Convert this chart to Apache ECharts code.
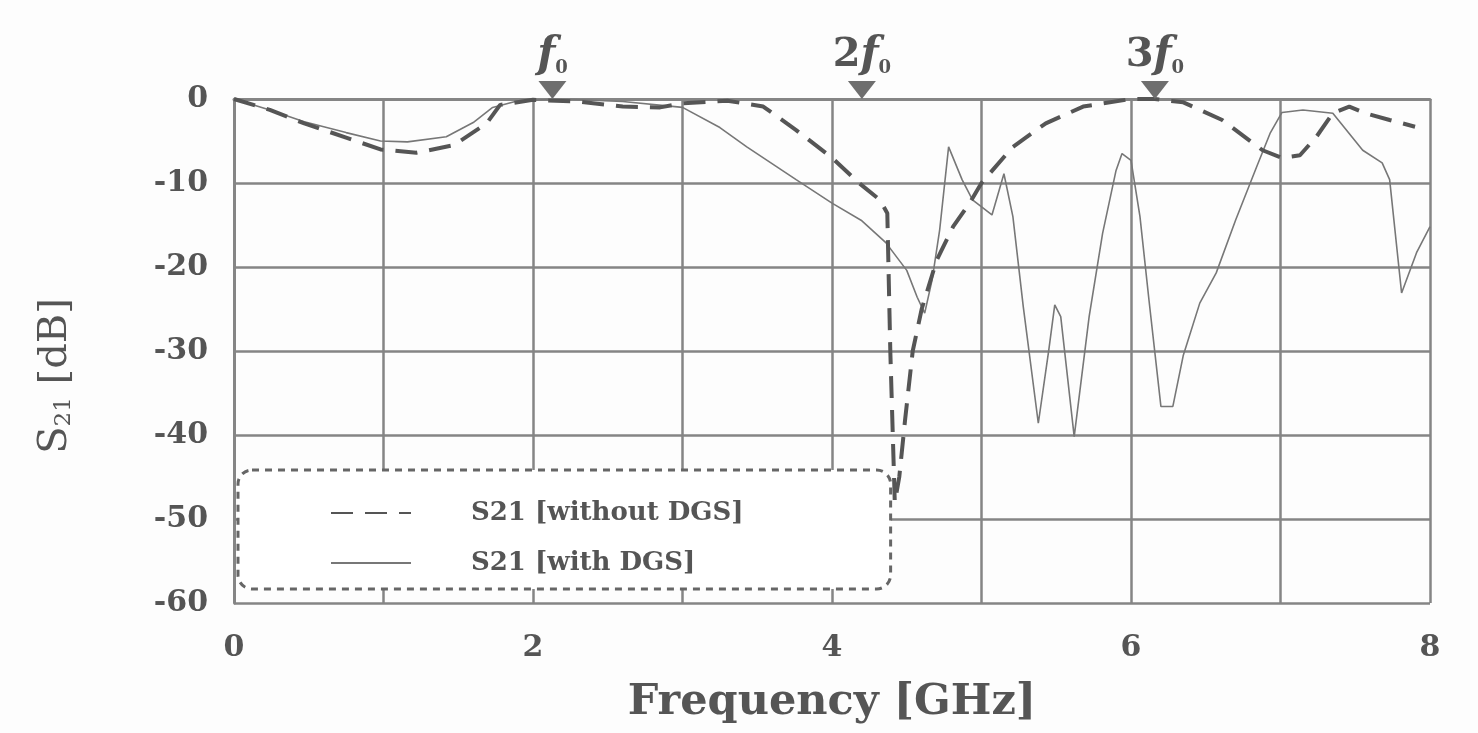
<!DOCTYPE html>
<html>
<head>
<meta charset="utf-8">
<script src="https://cdn.jsdelivr.net/npm/echarts@6/dist/echarts.min.js"></script>
<style>
  html, body { margin: 0; padding: 0; background: #fdfdfd; }
  #chart { width: 1478px; height: 733px; }
</style>
</head>
<body>
<div id="chart"></div>
<script>
// S21 without DGS (dashed)
let woFreq = [0, 0.24, 0.47, 0.75, 0.98, 1.22, 1.47, 1.69, 1.78, 2.0, 2.3, 2.6, 2.85, 3.0, 3.3, 3.54, 3.76, 4.0, 4.18, 4.32, 4.37, 4.39, 4.42, 4.45, 4.49, 4.54, 4.6, 4.7, 4.81, 4.92, 5.0, 5.17, 5.21, 5.43, 5.68, 6.0, 6.16, 6.35, 6.61, 6.88, 7.01, 7.13, 7.24, 7.35, 7.46, 7.57, 7.73, 7.9]
let woS21 = [0, -1.3, -2.9, -4.6, -6.0, -6.4, -5.5, -2.9, -0.7, -0.1, -0.3, -0.9, -1.0, -0.5, -0.2, -0.9, -3.7, -7.0, -10.0, -12.0, -13.6, -30, -48, -45, -38, -30, -25, -19.2, -15.2, -12.4, -10, -6.5, -5.7, -2.9, -0.9, 0, 0, -0.4, -2.5, -6.1, -7.0, -6.7, -4.5, -1.7, -0.9, -1.7, -2.5, -3.3]

// S21 with DGS (solid)
let wFreq = [0, 0.24, 0.47, 0.75, 0.98, 1.16, 1.42, 1.6, 1.73, 1.9, 2.2, 2.6, 3.0, 3.25, 3.43, 3.76, 4.0, 4.2, 4.36, 4.5, 4.57, 4.62, 4.67, 4.72, 4.78, 4.87, 4.94, 5.07, 5.15, 5.21, 5.28, 5.38, 5.45, 5.49, 5.53, 5.62, 5.72, 5.81, 5.9, 5.94, 6.0, 6.06, 6.12, 6.2, 6.28, 6.35, 6.46, 6.57, 6.7, 6.84, 6.93, 7.01, 7.15, 7.35, 7.55, 7.68, 7.73, 7.81, 7.91, 8.0]
let wS21 = [0, -1.3, -2.7, -4.0, -5.0, -5.1, -4.5, -2.8, -1.0, -0.2, 0, -0.3, -1.0, -3.4, -5.7, -9.6, -12.4, -14.5, -17.1, -20.4, -23.6, -25.5, -21.5, -15.6, -5.7, -9.6, -12.0, -13.8, -8.9, -14, -24.8, -38.6, -29.9, -24.5, -25.9, -40.2, -25.9, -16, -8.5, -6.5, -7.3, -14, -23.9, -36.6, -36.6, -30.5, -24.3, -20.7, -14.4, -8.1, -4.1, -1.6, -1.3, -1.7, -6.1, -7.6, -9.6, -23.1, -18.3, -15.2]

// harmonic markers
let markFreq = [2.13, 4.2, 6.16]
let markText = ['{i|f}{s|0}', '{n|2}{i|f}{s|0}', '{n|3}{i|f}{s|0}']

let yTicks = { min: -60, max: 0, interval: 10 }
let xTicks = { min: 0, max: 8, interval: 1, labelStep: 2 }

function zip (xs, ys) {
  return xs.map((x, i) => [x, ys[i]])
}

let gridColor = '#858585'
let textColor = '#555'

let Option = {
  backgroundColor: '#fdfdfd',
  animation: false,
  grid: {
    left: 234,
    right: 48,
    top: 99,
    bottom: 130
  },
  legend: {
    z: 1, // 盖住网格线，但在曲线下面
    orient: 'vertical',
    left: 238,
    top: 470,
    padding: [30, 147, 13, 92],
    itemGap: 24,
    itemWidth: 80,
    itemHeight: 22,
    backgroundColor: '#fff',
    borderColor: '#666',
    borderWidth: 3,
    borderType: [7, 6],
    borderRadius: 14,
    itemStyle: { opacity: 0 }, // 图例里不显示圆点
    textStyle: {
      fontFamily: 'DejaVu Serif',
      fontWeight: 'bold',
      fontSize: 26,
      color: textColor,
      padding: [0, 0, 0, 55]
    },
    data: ['S21 [without DGS]', 'S21 [with DGS]']
  },
  xAxis: {
    type: 'value',
    min: xTicks.min,
    max: xTicks.max,
    interval: xTicks.interval,
    name: 'Frequency [GHz]',
    nameLocation: 'middle',
    nameGap: 78,
    nameTextStyle: {
      fontFamily: 'DejaVu Serif',
      fontWeight: 'bold',
      fontSize: 43,
      color: textColor
    },
    axisLine: { show: true, lineStyle: { color: gridColor, width: 3 } },
    axisTick: { show: false },
    splitLine: { show: true, lineStyle: { color: gridColor, width: 2.5 } },
    axisLabel: {
      margin: 30,
      fontFamily: 'DejaVu Serif',
      fontWeight: 'bold',
      fontSize: 30,
      color: textColor,
      formatter: v => (v % xTicks.labelStep === 0 ? String(v) : '')
    }
  },
  yAxis: {
    type: 'value',
    min: yTicks.min,
    max: yTicks.max,
    interval: yTicks.interval,
    name: 'S{sub|21} [dB]',
    nameLocation: 'middle',
    nameGap: 158,
    nameTextStyle: {
      fontFamily: 'DejaVu Serif',
      fontSize: 40,
      color: textColor,
      padding: [0, 50, 0, 0],
      rich: {
        sub: { fontFamily: 'DejaVu Serif', fontSize: 23, color: textColor, verticalAlign: 'bottom', padding: [18, 0, 0, 0] }
      }
    },
    axisLine: { show: true, lineStyle: { color: gridColor, width: 3 } },
    axisTick: { show: false },
    splitLine: { show: true, lineStyle: { color: gridColor, width: 2.5 } },
    axisLabel: {
      margin: 26,
      fontFamily: 'DejaVu Serif',
      fontWeight: 'bold',
      fontSize: 30,
      color: textColor
    }
  },
  series: [
    {
      name: 'S21 [without DGS]',
      type: 'line',
      showSymbol: false,
      symbol: 'none',
      z: 3,
      lineStyle: { color: '#555', width: 4, type: [22, 12] },
      itemStyle: { color: '#555' },
      data: zip(woFreq, woS21),
      markPoint: {
        symbol: 'triangle',
        symbolRotate: 180,
        symbolSize: [28, 18],
        symbolOffset: [0, -9],
        itemStyle: { color: '#6e6e6e', opacity: 1 },
        label: {
          show: true,
          position: 'top',
          distance: 4,
          rich: {
            i: { fontFamily: 'DejaVu Serif', fontStyle: 'italic', fontWeight: 'bold', fontSize: 42, color: textColor },
            n: { fontFamily: 'DejaVu Serif', fontWeight: 'bold', fontSize: 40, color: textColor },
            s: { fontFamily: 'DejaVu Serif', fontWeight: 'bold', fontSize: 18, color: textColor, verticalAlign: 'bottom', padding: [16, 0, 0, 0] }
          }
        },
        data: markFreq.map((f, i) => ({
          coord: [f, 0],
          label: { formatter: markText[i] }
        }))
      }
    },
    {
      name: 'S21 [with DGS]',
      type: 'line',
      showSymbol: false,
      symbol: 'none',
      z: 2,
      lineStyle: { color: '#777', width: 1.6 },
      itemStyle: { color: '#777' },
      data: zip(wFreq, wS21)
    }
  ]
}

let myChart = echarts.init(document.getElementById('chart'))
myChart.setOption(Option)
</script>
</body>
</html>
